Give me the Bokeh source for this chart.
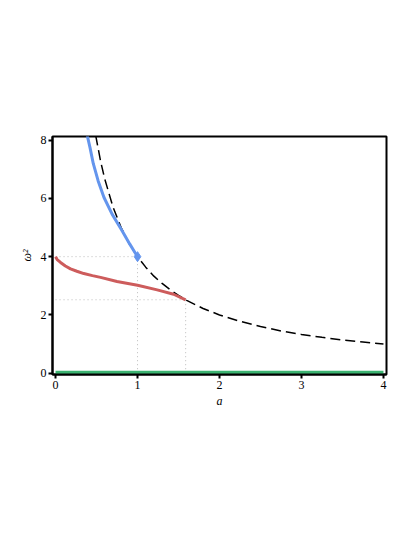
from bokeh.plotting import figure
from bokeh.embed import file_html
from bokeh.resources import INLINE
from bokeh.models import Range1d, FixedTicker

# Data
dashed_a = [0.49, 0.55, 0.6, 0.7, 0.8, 0.9, 1.0, 1.1, 1.2, 1.3, 1.4, 1.5, 1.6, 1.8,
            2.0, 2.25, 2.5, 2.75, 3.0, 3.25, 3.5, 3.75, 4.0]
dashed_w = [8.16, 7.27, 6.67, 5.71, 5.0, 4.44, 4.0, 3.64, 3.33, 3.08, 2.86, 2.67, 2.5, 2.22,
            2.0, 1.78, 1.6, 1.45, 1.33, 1.23, 1.14, 1.07, 1.0]

blue_a = [0.37, 0.386, 0.42, 0.46, 0.52, 0.59, 0.69, 0.81, 0.906, 1.0]
blue_w = [8.4, 8.17, 7.75, 7.2, 6.6, 6.04, 5.46, 4.9, 4.43, 4.0]

red_a = [0.0, 0.02, 0.061, 0.12, 0.183, 0.26, 0.345, 0.45, 0.549, 0.75, 1.0, 1.24, 1.44, 1.587]
red_w = [4.0, 3.9, 3.80, 3.68, 3.58, 3.5, 3.42, 3.35, 3.29, 3.15, 3.02, 2.86, 2.71, 2.52]

green_a = [0.0, 4.0]
green_w = [0.0, 0.0]

marker_a = [1.0]
marker_w = [4.0]

# dotted guide segments (x0, y0, x1, y1)
guide_x0 = [0.0, 1.0, 0.0, 1.587]
guide_y0 = [4.0, 0.0, 2.52, 0.0]
guide_x1 = [1.0, 1.0, 1.587, 1.587]
guide_y1 = [4.0, 4.0, 2.52, 2.52]

x_ticks = [0, 1, 2, 3, 4]
y_ticks = [0, 2, 4, 6, 8]

SERIF = "Times New Roman"

p = figure(frame_width=334, frame_height=238,
           x_range=Range1d(-0.037, 4.037), y_range=Range1d(-0.045, 8.125),
           output_backend="svg", toolbar_location=None,
           min_border_left=52, min_border_top=136, min_border_right=21, min_border_bottom=140)

p.grid.visible = False
p.outline_line_color = "black"
p.outline_line_width = 2
p.background_fill_color = "white"
p.border_fill_color = "white"

for ax in (p.xaxis[0], p.yaxis[0]):
    ax.axis_line_width = 2
    ax.axis_line_color = "black"
    ax.major_tick_line_width = 2
    ax.major_tick_line_color = "black"
    ax.major_tick_out = 4
    ax.major_tick_in = 0
    ax.minor_tick_line_color = None
    ax.major_label_text_font = SERIF
    ax.major_label_text_font_size = "12px"
    ax.major_label_text_color = "black"
    ax.axis_label_text_font = SERIF
    ax.axis_label_text_font_style = "italic"
    ax.axis_label_text_font_size = "12px"
    ax.axis_label_text_color = "black"

p.xaxis[0].ticker = FixedTicker(ticks=x_ticks)
p.yaxis[0].ticker = FixedTicker(ticks=y_ticks)
p.xaxis[0].axis_label = "a"
p.yaxis[0].axis_label = "ω²"
p.xaxis[0].major_label_standoff = 2
p.yaxis[0].major_label_standoff = 2
p.xaxis[0].axis_label_standoff = 2
p.yaxis[0].axis_label_standoff = 4

p.segment(x0=guide_x0, y0=guide_y0, x1=guide_x1, y1=guide_y1,
          line_color="#bbbbbb", line_width=1, line_dash="1 3")

p.line(green_a, green_w, line_color="#3cb371", line_width=5)
p.line(dashed_a, dashed_w, line_color="black", line_width=1.5, line_dash="10 5")
p.line(red_a, red_w, line_color="#cd5c5c", line_width=3)
p.line(blue_a, blue_w, line_color="#6495ed", line_width=3)
p.scatter(marker_a, marker_w, marker="diamond", size=10, fill_color="#6495ed",
          line_color="#6495ed")

open("out.html", "w").write(file_html(p, INLINE))
